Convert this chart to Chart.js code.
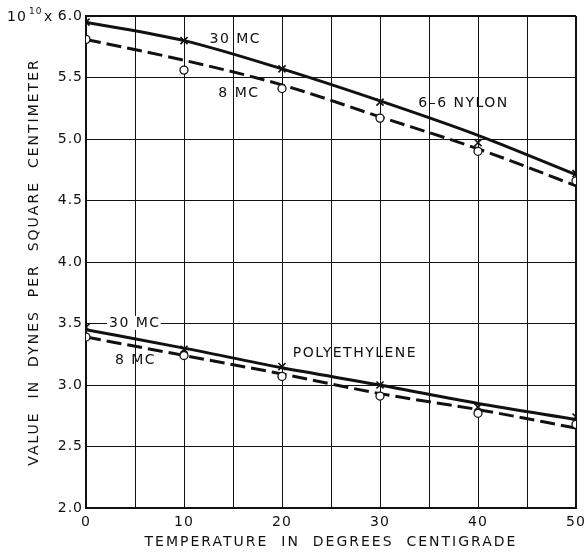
<!DOCTYPE html>
<html>
<head>
<meta charset="utf-8">
<script src="https://cdn.jsdelivr.net/npm/chart.js@4.4.1/dist/chart.umd.min.js"></script>
<style>
  html, body { margin: 0; padding: 0; background: #fff; }
  #wrap { width: 585px; height: 552px; }
</style>
</head>
<body>
<div id="wrap"><canvas id="chart" width="585" height="552"></canvas></div>
<script>
// Temperature in degrees C
const temps = [0, 10, 20, 30, 40, 50];

// Measured values, 10^10 dynes per sq cm
const nylon30 = [5.95, 5.80, 5.57, 5.30, 4.97, 4.72];
const nylon8 = [5.81, 5.56, 5.41, 5.17, 4.90, 4.66];
const poly30 = [3.47, 3.29, 3.15, 3.00, 2.82, 2.74];
const poly8 = [3.39, 3.24, 3.07, 2.91, 2.77, 2.68];

// Faired curves through the points
const nylon30Curve = [5.95, 5.80, 5.57, 5.31, 5.03, 4.71];
const nylon8Curve = [5.81, 5.64, 5.44, 5.18, 4.92, 4.62];
const poly30Curve = [3.45, 3.30, 3.14, 3.00, 2.85, 2.72];
const poly8Curve = [3.39, 3.24, 3.09, 2.93, 2.80, 2.65];

// Axis ticks
const xTickLabels = [0, 10, 20, 30, 40, 50];
const yTickLabels = [2.0, 2.5, 3.0, 3.5, 4.0, 4.5, 5.0, 5.5, 6.0];

// Curve labels (data coordinates)
const notes = [
    { text: "30 MC", x: 12.6, y: 5.81 },
    { text: "8 MC", x: 13.5, y: 5.375 },
    { text: "6\u20136 NYLON", x: 33.9, y: 5.29 },
    { text: "30 MC", x: 2.35, y: 3.505, knockout: true },
    { text: "8 MC", x: 2.95, y: 3.2 },
    { text: "POLYETHYLENE", x: 21.1, y: 3.26 }
];

const INK = "#111";
const FONT = "'DejaVu Sans', sans-serif";

function pts(ys) {
    return temps.map((t, i) => ({ x: t, y: ys[i] }));
}

function curve(ys, dashed) {
    return {
        data: pts(ys),
        borderColor: INK,
        borderWidth: 3,
        borderDash: dashed ? [15, 6] : [],
        pointRadius: 0,
        showLine: true,
        cubicInterpolationMode: "monotone",
        order: 2
    };
}

function marks(ys, style) {
    return {
        data: pts(ys),
        showLine: false,
        pointStyle: style,
        pointRadius: style === "circle" ? 4 : 5,
        pointBorderWidth: style === "circle" ? 1.3 : 1.6,
        pointBorderColor: INK,
        pointBackgroundColor: "#fff",
        order: 1
    };
}

// wider spacing for the axis titles than for the tick numbers
function spacedTitle(scale, ctx) {
    if (scale._spaced) return;
    const orig = scale.drawTitle;
    scale.drawTitle = function () {
        ctx.letterSpacing = "2px";
        orig.apply(this, arguments);
        ctx.letterSpacing = "1px";
    };
    scale._spaced = true;
}

const annotate = {
    id: "annotate",
    beforeDraw(chart) {
        chart.ctx.letterSpacing = "1px";
        spacedTitle(chart.scales.x, chart.ctx);
        spacedTitle(chart.scales.y, chart.ctx);
    },
    afterDraw(chart) {
        const { ctx, scales: { x, y } } = chart;
        ctx.save();
        ctx.letterSpacing = "1.5px";
        ctx.textBaseline = "middle";
        ctx.textAlign = "left";
        ctx.font = "14px " + FONT;
        notes.forEach(n => {
            const px = x.getPixelForValue(n.x);
            const py = y.getPixelForValue(n.y);
            if (n.knockout) {
                const w = ctx.measureText(n.text).width;
                ctx.fillStyle = "#fff";
                ctx.fillRect(px - 2, py - 7, w + 2, 14);
            }
            ctx.fillStyle = INK;
            ctx.fillText(n.text, px, py);
        });

        // 10^10 x multiplier in front of the top tick
        const base = y.getPixelForValue(6) + 5;
        ctx.textBaseline = "alphabetic";
        ctx.letterSpacing = "1px";
        ctx.font = "14px " + FONT;
        ctx.fillText("10", 7, base);
        ctx.fillText("x", 44, base);
        ctx.font = "9px " + FONT;
        ctx.fillText("10", 29, base - 7);
        ctx.restore();
        ctx.letterSpacing = "0px";
    }
};

new Chart(document.getElementById("chart"), {
    type: "scatter",
    data: {
        datasets: [
            marks(nylon30, "crossRot"),
            marks(nylon8, "circle"),
            marks(poly30, "crossRot"),
            marks(poly8, "circle"),
            curve(nylon30Curve, false),
            curve(nylon8Curve, true),
            curve(poly30Curve, false),
            curve(poly8Curve, true)
        ]
    },
    options: {
        responsive: false,
        animation: false,
        layout: { padding: { top: 16, right: 0, left: 0, bottom: 0 } },
        plugins: { legend: { display: false }, tooltip: { enabled: false } },
        scales: {
            x: {
                type: "linear",
                min: 0,
                max: 50,
                afterFit: s => {
                    s.height = 44;
                    s.paddingLeft = 0;
                    s.paddingRight = 9;
                },
                border: { color: INK, width: 2 },
                grid: {
                    color: INK,
                    drawTicks: false,
                    lineWidth: c => (c.tick && c.tick.value === 50 ? 2 : 1)
                },
                ticks: {
                    stepSize: 5,
                    autoSkip: false,
                    maxRotation: 0,
                    padding: 6,
                    color: INK,
                    font: { family: FONT, size: 14 },
                    callback: v => (xTickLabels.includes(v) ? String(v) : "")
                },
                title: {
                    display: true,
                    text: "TEMPERATURE  IN  DEGREES  CENTIGRADE",
                    color: INK,
                    font: { family: FONT, size: 14 },
                    padding: { top: 0, bottom: 1 }
                }
            },
            y: {
                min: 2,
                max: 6,
                afterFit: s => { s.width = 86; },
                border: { color: INK, width: 2 },
                grid: {
                    color: INK,
                    drawTicks: false,
                    lineWidth: c => (c.tick && c.tick.value === 6 ? 2 : 1)
                },
                ticks: {
                    stepSize: 0.5,
                    padding: 3,
                    color: INK,
                    font: { family: FONT, size: 14 },
                    callback: v => (yTickLabels.includes(v) ? v.toFixed(1) : "")
                },
                title: {
                    display: true,
                    text: "VALUE  IN  DYNES  PER  SQUARE  CENTIMETER",
                    color: INK,
                    font: { family: FONT, size: 14 },
                    padding: { top: 26, bottom: 0 }
                }
            }
        }
    },
    plugins: [annotate]
});
</script>
</body>
</html>
